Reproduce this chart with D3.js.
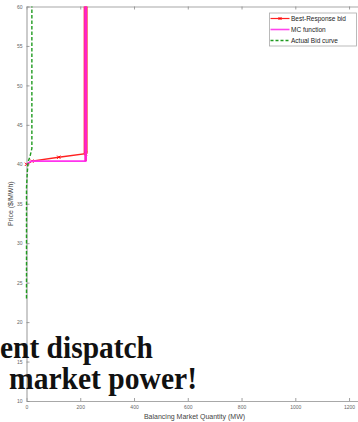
<!DOCTYPE html>
<html>
<head>
<meta charset="utf-8">
<script src="https://cdn.jsdelivr.net/npm/d3@7"></script>
<style>
  html, body { margin: 0; padding: 0; background: #fff; overflow: hidden; }
  svg { display: block; }
</style>
</head>
<body>
<figure id="chart" style="margin:0"></figure>
<script>
// series (quantity MW, price $/MWh)
const bestQ = [0, 20, 120, 220, 220];
const bestP = [40.0, 40.4, 40.9, 41.35, 60];
const mcQ = [0, 18, 220, 220];
const mcP = [40.0, 40.4, 40.4, 60];
const bidQ = [0, 0, 3, 6, 13, 20, 20];
const bidP = [23, 37, 39, 40.3, 41, 42, 60];

const xTicks = [0, 200, 400, 600, 800, 1000, 1200];
const yTicks = [10, 15, 20, 25, 30, 35, 40, 45, 50, 55, 60];
const legendNames = ['Best-Response bid', 'MC function', 'Actual Bid curve'];
const overlayLines = ['ent dispatch', 'market power!'];

const width = 358, height = 422;

const svg = d3.select('figure#chart')
  .append('svg')
  .attr('width', width)
  .attr('height', height)
  .attr('font-family', '"Liberation Sans", Arial, sans-serif');

const x = d3.scaleLinear().domain([0, 1250]).range([26.5, 362.5]);
const y = d3.scaleLinear().domain([10, 60]).range([401, 6.5]);

const axisColor = '#a8a8a8';
const labelColor = '#666';
const fmt = d3.format('d');

// axes (MATLAB style: box on, ticks pointing inward)
const gx = svg.append('g')
  .attr('transform', `translate(0,${y(10)})`)
  .call(d3.axisBottom(x).tickValues(xTicks).tickFormat(fmt).tickSizeInner(-3).tickSizeOuter(0).tickPadding(4));
const gxTop = svg.append('g')
  .attr('transform', `translate(0,${y(60)})`)
  .call(d3.axisTop(x).tickValues(xTicks).tickSizeInner(-3).tickSizeOuter(0).tickFormat(''));
const gy = svg.append('g')
  .attr('transform', `translate(${x(0)},0)`)
  .call(d3.axisLeft(y).tickValues(yTicks).tickFormat(fmt).tickSizeInner(-3).tickSizeOuter(0).tickPadding(4));
const gyRight = svg.append('g')
  .attr('transform', `translate(${x(1250)},0)`)
  .call(d3.axisRight(y).tickValues(yTicks).tickSizeInner(-3).tickSizeOuter(0).tickFormat(''));

[gx, gxTop, gy, gyRight].forEach(g => {
  g.select('.domain').attr('stroke', axisColor).attr('stroke-width', 1.2);
  g.selectAll('.tick line').attr('stroke', '#888').attr('stroke-width', 0.8);
  g.selectAll('.tick text').attr('fill', labelColor).attr('font-size', 5);
});

// axis titles
svg.append('text')
  .attr('x', (x(0) + x(1250)) / 2)
  .attr('y', 418.5)
  .attr('text-anchor', 'middle')
  .attr('font-size', 7)
  .attr('fill', '#444')
  .text('Balancing Market Quantity (MW)');

svg.append('text')
  .attr('transform', `translate(13,${(y(10) + y(60)) / 2}) rotate(-90)`)
  .attr('text-anchor', 'middle')
  .attr('font-size', 7)
  .attr('fill', '#444')
  .text('Price ($/MWh)');

const line = d3.line().x(d => x(d[0])).y(d => y(d[1]));
const best = bestQ.map((q, i) => [q, bestP[i]]);
const mc = mcQ.map((q, i) => [q, mcP[i]]);
const bid = bidQ.map((q, i) => [q, bidP[i]]);

// Best-Response bid (red with x markers)
svg.append('path')
  .datum(best)
  .attr('fill', 'none')
  .attr('stroke', '#ff2020')
  .attr('stroke-width', 1.4)
  .attr('d', line);

// thicker red underlay for the vertical part where the markers crowd together
svg.append('path')
  .datum(best.slice(3))
  .attr('fill', 'none')
  .attr('stroke', '#ff3030')
  .attr('stroke-width', 4)
  .attr('d', line);

svg.append('g')
  .selectAll('path')
  .data(best.slice(0, 4))
  .join('path')
  .attr('transform', d => `translate(${x(d[0])},${y(d[1])})`)
  .attr('d', 'M-1.6,-1.6L1.6,1.6M-1.6,1.6L1.6,-1.6')
  .attr('stroke', '#ff0000')
  .attr('stroke-width', 1);

// MC function (magenta)
svg.append('path')
  .datum(mc)
  .attr('fill', 'none')
  .attr('stroke', '#ff33ee')
  .attr('stroke-width', 1.6)
  .attr('d', line);

svg.append('path')
  .datum(mc.slice(2))
  .attr('fill', 'none')
  .attr('stroke', '#ff22cc')
  .attr('stroke-width', 2.6)
  .attr('d', line);

// Actual Bid curve (green dashed)
svg.append('path')
  .datum(bid)
  .attr('fill', 'none')
  .attr('stroke', '#1f9a1f')
  .attr('stroke-width', 1.4)
  .attr('stroke-dasharray', '3.5,2')
  .attr('d', line);

// legend
const legend = svg.append('g').attr('font-size', 6.5);
legend.append('rect')
  .attr('x', 269.5).attr('y', 13)
  .attr('width', 87).attr('height', 33)
  .attr('fill', '#fff')
  .attr('stroke', '#aaa')
  .attr('stroke-width', 0.8);

const legendStyles = [
  { stroke: '#ff2020', width: 1.2, dash: null, marker: true },
  { stroke: '#ff44ee', width: 1.6, dash: null, marker: false },
  { stroke: '#1f9a1f', width: 1.3, dash: '3,2', marker: false }
];

legendNames.forEach((name, i) => {
  const ly = 18.5 + i * 11;
  const s = legendStyles[i];
  legend.append('line')
    .attr('x1', 270.5).attr('x2', 289.5)
    .attr('y1', ly).attr('y2', ly)
    .attr('stroke', s.stroke)
    .attr('stroke-width', s.width)
    .attr('stroke-dasharray', s.dash);
  if (s.marker) {
    legend.append('path')
      .attr('transform', `translate(280,${ly})`)
      .attr('d', 'M-1.5,-1.5L1.5,1.5M-1.5,1.5L1.5,-1.5')
      .attr('stroke', '#ff0000')
      .attr('stroke-width', 1);
  }
  legend.append('text')
    .attr('x', 291)
    .attr('y', ly)
    .attr('dy', '0.35em')
    .attr('fill', '#222')
    .text(name);
});

// slide text overlapping the figure
const overlay = svg.append('g')
  .attr('font-family', '"Liberation Serif", "DejaVu Serif", serif')
  .attr('font-weight', 'bold')
  .attr('font-size', 31)
  .attr('fill', '#111');

overlay.append('text')
  .attr('x', 0).attr('y', 358)
  .attr('textLength', 153)
  .attr('lengthAdjust', 'spacingAndGlyphs')
  .text(overlayLines[0]);

overlay.append('text')
  .attr('x', 9).attr('y', 389)
  .attr('textLength', 188)
  .attr('lengthAdjust', 'spacingAndGlyphs')
  .text(overlayLines[1]);
</script>
</body>
</html>
